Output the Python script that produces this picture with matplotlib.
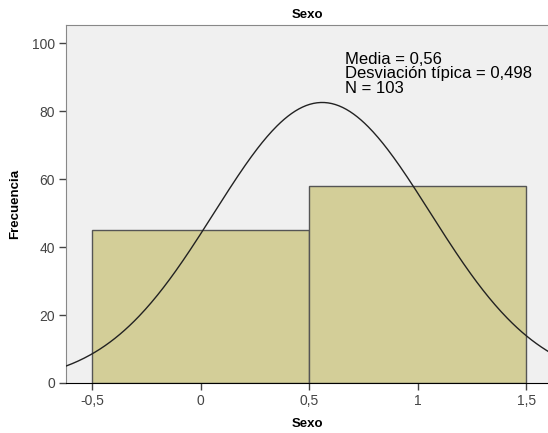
import numpy as np
import matplotlib.pyplot as plt
from matplotlib.ticker import FuncFormatter

plt.rcParams['font.family'] = ['Liberation Sans', 'DejaVu Sans']

# histogram data (Sexo)
bin_edges = [-0.5, 0.5, 1.5]
counts = [45, 58]
media = 0.56
desv = 0.498
n = 103

fig = plt.figure(figsize=(5.48, 4.33), dpi=100)
ax = fig.add_axes([66 / 548, 1 - 383 / 433, 1 - 66 / 548, (383 - 25) / 433])
ax.set_facecolor('#F0F0F0')

widths = np.diff(bin_edges)
ax.bar(bin_edges[:-1], counts, width=widths, align='edge',
       color='#D3CE98', edgecolor='#555555', linewidth=1.0, zorder=2)

# normal curve scaled to counts
xs = np.linspace(-0.62, 1.62, 400)
pdf = np.exp(-0.5 * ((xs - media) / desv) ** 2) / (desv * np.sqrt(2 * np.pi))
ax.plot(xs, n * widths[0] * pdf, color='#222222', linewidth=1.0, zorder=3)

ax.set_xlim(-0.62, 1.60)
ax.set_ylim(0, 105.3)
ax.set_xticks([-0.5, 0, 0.5, 1, 1.5])
ax.set_yticks([0, 20, 40, 60, 80, 100])
fmt = FuncFormatter(lambda v, p: ('%g' % v).replace('.', ','))
ax.xaxis.set_major_formatter(fmt)
ax.yaxis.set_major_formatter(fmt)
ax.tick_params(axis='both', labelsize=10, length=5, color='#444444',
               labelcolor='#444444', width=1, pad=3)

for s in ['left', 'top']:
    ax.spines[s].set_color('#888888')
ax.spines['bottom'].set_color('#000000')
ax.spines['right'].set_visible(False)

ax.set_title('Sexo', fontsize=9.5, fontweight='bold', pad=5)
ax.set_xlabel('Sexo', fontsize=9.5, fontweight='bold', labelpad=7)
ax.set_ylabel('Frecuencia', fontsize=9.5, fontweight='bold', labelpad=8)

ax.text(0.666, 97.3, 'Media = 0,56\nDesviación típica = 0,498\nN = 103',
        fontsize=12, va='top', ha='left', linespacing=0.93, zorder=4)

fig.savefig('out.png', dpi=100)
